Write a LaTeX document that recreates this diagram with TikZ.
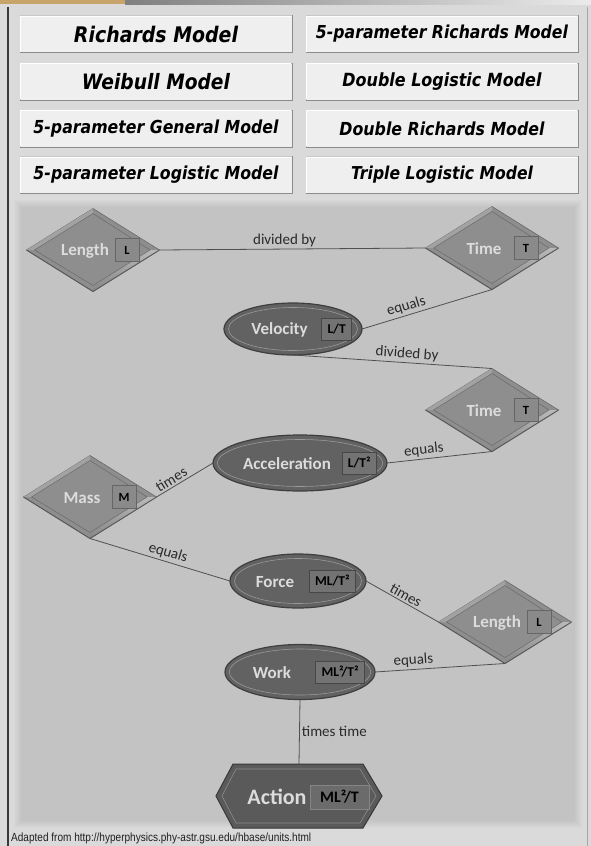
\documentclass[tikz,border=0pt]{standalone}
\usepackage{fontspec}
\usepackage{graphicx}
\usetikzlibrary{shapes.geometric,calc}
\newfontfamily\btnfont[FakeStretch=0.88]{DejaVu Sans}
\newfontfamily\calfont{Carlito}
\newfontfamily\footfont[FakeStretch=0.85]{Liberation Sans}
\definecolor{pagebg}{HTML}{DADADA}
\definecolor{panelbg}{HTML}{C3C3C3}
\definecolor{btnbg}{HTML}{EFEFEF}
\definecolor{diaface}{HTML}{8E8E8E}
\definecolor{diaedge}{HTML}{6A6A6A}
\definecolor{bevlight}{HTML}{B9B9B9}
\definecolor{bevhigh}{HTML}{A2A2A2}
\definecolor{ellface}{HTML}{626262}
\definecolor{ellrim}{HTML}{3E3E3E}
\definecolor{nodetxt}{HTML}{DCDCDC}
\definecolor{linecol}{HTML}{505050}
\definecolor{labcol}{HTML}{2A2A2A}
\definecolor{tanstrip}{HTML}{C9A46A}
\tikzset{
  btn/.style={draw=black!22, fill=btnbg, line width=0.6pt, inner sep=0pt,
    minimum width=272pt, minimum height=37pt},
  btnshadow/.style={draw=black!45, line width=1pt},
  dia/.style={diamond, inner sep=0pt, outer sep=0pt, minimum width=133pt,
    minimum height=83pt, fill=diaface, draw=diaedge, line width=0.6pt},
  dtext/.style={font=\calfont\bfseries\fontsize{17}{17}\selectfont, text=nodetxt, inner sep=0pt},
  dbox/.style={draw=black!60, fill=black!46, minimum width=24pt, minimum height=23pt,
    inner sep=0pt, line width=0.6pt, text=black, font=\calfont\bfseries\fontsize{12.5}{12.5}\selectfont},
  ell/.style={ellipse, inner sep=0pt, outer sep=0pt, fill=ellface, draw=ellrim, line width=1.2pt},
  ring/.style={ellipse, inner sep=0pt, draw=black!40, line width=0.6pt},
  ebox/.style={draw=black!72, fill=black!55, minimum height=22pt, inner xsep=6pt, inner ysep=0pt,
    line width=0.6pt, text=black, font=\calfont\bfseries\fontsize{13.5}{13.5}\selectfont},
  conn/.style={draw=linecol, line width=0.8pt},
  elab/.style={font=\calfont\fontsize{15}{15}\selectfont, text=labcol, inner sep=2pt},
}
% button: name, cx, cy, text width, text
\newcommand\mybtn[5]{%
  \node[btn] (#1) at (#2,#3) {\resizebox{#4pt}{!}{\btnfont\bfseries\itshape #5}};
  \draw[btnshadow] (#1.north east) -- (#1.south east) -- (#1.south west);
  \draw[white, line width=0.8pt] ($(#1.south west)+(0.8,-1)$) -- ($(#1.north west)+(0.8,1)$) -- ($(#1.north east)+(-1,1)$);
}
% diamond: name, x, y, text, unit
\newcommand\dnode[5]{%
  \node[dia] (#1) at (#2,#3) {};
  \fill[bevhigh] (#1.west) -- (#1.north) -- ($(#1.north)+(0,5)$) -- ($(#1.west)+(8,0)$) -- cycle;
  \shade[top color=bevlight, bottom color=black!48] (#1.south) -- (#1.east) -- ($(#1.east)+(-9.5,0)$) -- ($(#1.south)+(0,-6)$) -- cycle;
  \draw[diaedge, line width=0.5pt] ($(#1.west)+(8,0)$) -- ($(#1.north)+(0,5)$) -- ($(#1.east)+(-9.5,0)$) -- ($(#1.south)+(0,-6)$) -- cycle;
  \draw[black!65, line width=0.9pt] (#1.east) -- (#1.south) -- (#1.west);
  \node[dtext] (#1-t) at ($(#1)+(-8,1)$) {#4};
  \node[dbox] (#1-u) at ($(#1)+(34,0)$) {#5};
}
% ellipse: name, x, y, width, height, text, text x, unit
\newcommand\enode[8]{%
  \node[ell, minimum width=#4pt, minimum height=#5pt] (#1) at (#2,#3) {};
  \pgfmathsetmacro\rw{#4-9}\pgfmathsetmacro\rh{#5-9}%
  \node[ring, minimum width=\rw pt, minimum height=\rh pt] (#1-r) at (#2,#3) {};
  \node[dtext] (#1-t) at (#7,#3+1) {#6};
  \node[ebox, anchor=east] (#1-u) at ($(#1.east)+(-10,0)$) {#8};
}
\begin{document}
\begin{tikzpicture}[x=1pt,y=-1pt]
\useasboundingbox (0,0) rectangle (591,846);
% page background
\fill[pagebg] (0,0) rectangle (591,846);
\fill[tanstrip] (0,0) rectangle (125,4);
\shade[left color=black!50, right color=black!8] (125,0) rectangle (591,4);
\draw[black!15, line width=0.8pt] (8,6.5) -- (587,6.5);
\draw[black!78, line width=1.5pt] (8,7) -- (8,846);
\draw[black!35, line width=1pt] (587.5,7) -- (587.5,846);
% buttons
\mybtn{b1}{156}{34}{164}{Richards Model}
\mybtn{b2}{442}{34}{252}{5-parameter Richards Model}
\mybtn{b3}{156}{81.5}{148}{Weibull Model}
\mybtn{b4}{442}{81.5}{199}{Double Logistic Model}
\mybtn{b5}{156}{128.5}{245}{5-parameter General Model}
\mybtn{b6}{442}{128.5}{205}{Double Richards Model}
\mybtn{b7}{156}{175}{245}{5-parameter Logistic Model}
\mybtn{b8}{442}{175}{182}{Triple Logistic Model}
% diagram panel with soft edge
\foreach \i/\c in {0/12,1/24,2/36,3/48,4/60,5/72,6/84,7/100}
  \fill[panelbg!\c!pagebg] (14+\i,200+\i) rectangle (582-\i,828-\i);
% nodes
\dnode{len1}{93}{250}{Length}{L}
\dnode{time1}{492}{248}{Time}{T}
\dnode{time2}{492}{410}{Time}{T}
\dnode{mass}{90}{497}{Mass}{M}
\dnode{len2}{505}{622}{Length}{L}
\enode{vel}{293}{329}{138}{52}{Velocity}{279.5}{L/T}
\enode{acc}{300}{463}{174}{56}{Acceleration}{287}{L/T²}
\enode{force}{298}{581}{136}{54}{Force}{275}{ML/T²}
\enode{work}{300}{672}{150}{55}{Work}{272}{ML²/T²}
% action hexagon
\node[inner sep=0pt, outer sep=0pt, minimum width=166pt, minimum height=64pt] (act) at (299,796) {};
\fill[ellface!92!black, draw=black!78, line width=1pt]
  (act.west) -- ($(act.north west)+(17,0)$) -- ($(act.north east)+(-19,0)$) -- (act.east)
  -- ($(act.south east)+(-19,0)$) -- ($(act.south west)+(17,0)$) -- cycle;
\draw[black!45, line width=0.6pt]
  ($(act.west)+(6,0)$) -- ($(act.north west)+(20,5)$) -- ($(act.north east)+(-22,5)$) -- ($(act.east)+(-6,0)$)
  -- ($(act.south east)+(-22,-5)$) -- ($(act.south west)+(20,-5)$) -- cycle;
\node[font=\calfont\bfseries\fontsize{22}{22}\selectfont, text=nodetxt, inner sep=0pt] (act-t) at (277,797) {Action};
\node[draw=black!48, fill=black!58, minimum width=59pt, minimum height=24pt, inner sep=0pt,
  line width=0.6pt, text=black, font=\calfont\bfseries\fontsize{16}{16}\selectfont] (act-u) at (339.5,797) {ML²/T};
% connectors
\draw[conn] (len1.east) -- node[elab, above, pos=0.47] {divided by} (time1.west);
\draw[conn] (vel.east) -- node[elab, above, sloped, pos=0.36] {equals} (time1.south);
\draw[conn] (vel.south) -- node[elab, above, sloped, pos=0.57] {divided by} (time2.north);
\draw[conn] (acc.east) -- node[elab, above, sloped, pos=0.36] {equals} (time2.south);
\draw[conn] (mass.east) -- node[elab, above, sloped, pos=0.33] {times} (acc.west);
\draw[conn] (mass.south) -- node[elab, above, sloped, pos=0.54] {equals} (force.west);
\draw[conn] (force.east) -- node[elab, above, sloped, pos=0.5] {times} (len2.west);
\draw[conn] (work.east) -- node[elab, above, sloped, pos=0.3] {equals} (len2.south);
\draw[conn] (work.south) -- node[elab, right, pos=0.5] {times time} (act.north);
% footer
\node[anchor=west, inner sep=0pt, text=black!88] (foot) at (11,838)
  {\resizebox{300pt}{!}{\footfont Adapted from http://hyperphysics.phy-astr.gsu.edu/hbase/units.html}};
\end{tikzpicture}
\end{document}
